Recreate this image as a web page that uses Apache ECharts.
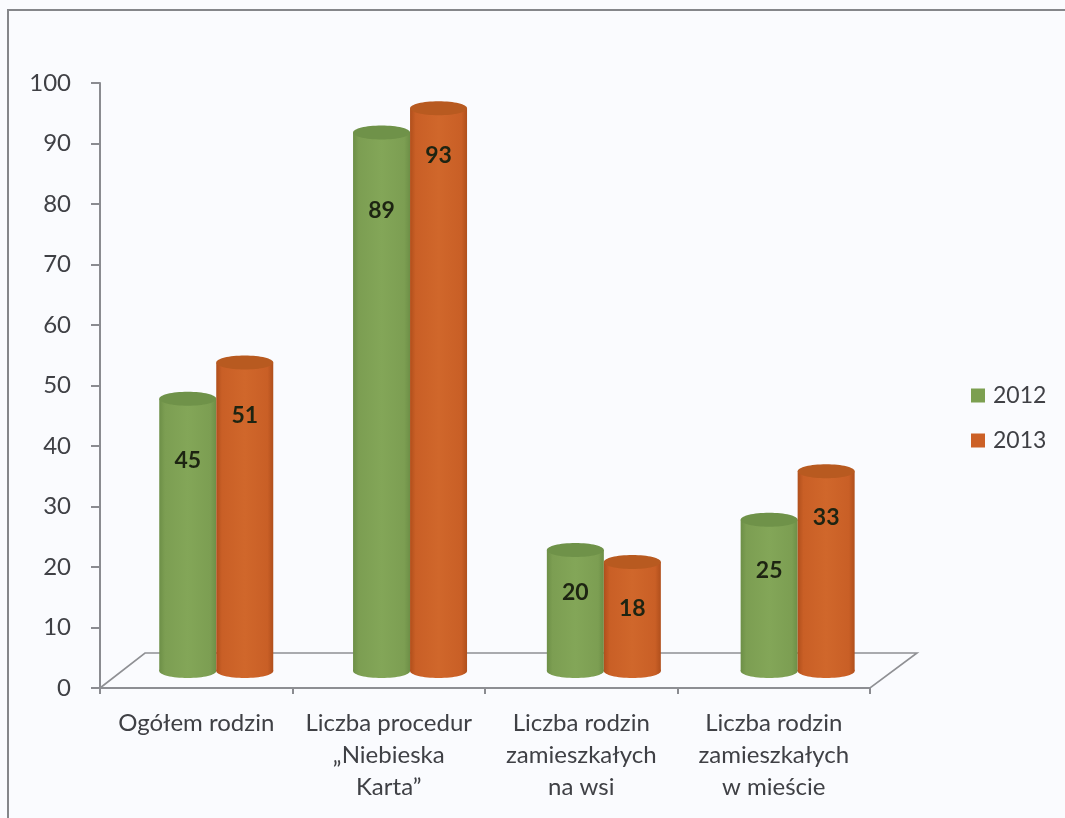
<!DOCTYPE html>
<html>
<head>
<meta charset="utf-8">
<style>html,body{margin:0;padding:0;background:#fafbfe}#c{width:1065px;height:818px;filter:blur(0.6px)}</style>
<script src="https://cdn.jsdelivr.net/npm/echarts@6/dist/echarts.min.js"></script>
</head>
<body>
<div id="c"></div>
<script>
const categories = ['Ogółem rodzin', 'Liczba procedur\n„Niebieska\nKarta”', 'Liczba rodzin\nzamieszkałych\nna wsi', 'Liczba rodzin\nzamieszkałych\nw mieście'];
const values2012 = [45, 89, 20, 25];
const values2013 = [51, 93, 18, 33];
const yTicks = {min: 0, max: 100, interval: 10};
// label drop below the cylinder top (px), as placed in the original
const labelDrop2012 = [62, 78, 43, 51];
const labelDrop2013 = [53, 47, 46, 46];

const G = echarts.graphic;
const grad = (a, b, c) => new G.LinearGradient(0, 0, 1, 0, [
  {offset: 0, color: a}, {offset: 0.1, color: b}, {offset: 0.5, color: c},
  {offset: 0.9, color: b}, {offset: 1, color: a}]);
const styles = {
  g: {body: grad('#6d8f47', '#7c9e52', '#83a658'), top: '#6f9249'},
  o: {body: grad('#b04f1c', '#c95f26', '#d0672b'), top: '#b85a20'}
};
const W = 57, RY = 7, LIFT = 17, DEPTH = 20, SPREAD = 1.3;

function cylinder(side, st, drops) {
  return function (params, api) {
    const i = api.value(0), v = api.value(1);
    const top = api.coord([i, v]), base = api.coord([i, 0]);
    const cx = top[0] + DEPTH + i * SPREAD + side * W / 2;
    const yT = top[1] - LIFT, yB = base[1] - LIFT;
    return {type: 'group', children: [
      {type: 'ellipse', shape: {cx, cy: yB, rx: W / 2, ry: RY}, style: {fill: st.body}},
      {type: 'rect', shape: {x: cx - W / 2, y: yT, width: W, height: yB - yT}, style: {fill: st.body}},
      {type: 'ellipse', shape: {cx, cy: yT, rx: W / 2, ry: RY}, style: {fill: st.top}},
      {type: 'text', style: {text: String(v), x: cx, y: yT + drops[i], align: 'center', verticalAlign: 'middle',
        fill: '#1d2412', font: 'bold 23px Lato'}}
    ]};
  };
}
function floor(params, api) {
  const half = api.size([1, 0])[0] / 2;
  const p0 = api.coord([0, 0]), p3 = api.coord([3, 0]);
  const a = [p0[0] - half, p0[1]], b = [p3[0] + half, p3[1]];
  return {type: 'polygon', shape: {points: [a, [a[0] + 45, a[1] - 35], [b[0] + 47, b[1] - 35], b]},
    style: {fill: 'none', stroke: '#8f9094', lineWidth: 1.6}};
}
const toData = arr => arr.map((v, i) => [i, v]);
const chart = echarts.init(document.getElementById('c'), null, {width: 1065, height: 818, renderer: 'canvas'});
chart.setOption({
  animation: false,
  backgroundColor: '#fafbfe',
  textStyle: {fontFamily: 'Lato'},
  grid: {left: 100, right: 195, top: 83, bottom: 130, containLabel: false},
  legend: {
    orient: 'vertical', left: 966, top: 379, itemWidth: 14, itemHeight: 14, itemGap: 22, icon: 'rect',
    data: ['2012', '2013'], textStyle: {fontSize: 23, color: '#3f4045', fontFamily: 'Lato', padding: [0, 0, 0, 3]}
  },
  xAxis: {
    type: 'category', data: categories, boundaryGap: true,
    axisLine: {lineStyle: {color: '#8a8b90', width: 2}},
    axisTick: {show: true, length: 6, alignWithLabel: false, lineStyle: {color: '#8a8b90', width: 2}},
    axisLabel: {color: '#3f4045', fontSize: 24, lineHeight: 32, margin: 19, interval: 0}
  },
  yAxis: {
    type: 'value', min: yTicks.min, max: yTicks.max, interval: yTicks.interval,
    splitLine: {show: false},
    axisLine: {show: true, lineStyle: {color: '#8a8b90', width: 2}},
    axisTick: {show: true, length: 9, lineStyle: {color: '#8a8b90', width: 2}},
    axisLabel: {color: '#3f4045', fontSize: 24, margin: 29}
  },
  graphic: [{type: 'polyline', silent: true, shape: {points: [[8, 818], [8, 10], [1065, 10]]},
    style: {fill: 'none', stroke: '#85868a', lineWidth: 2}}],
  series: [
    {type: 'custom', name: 'floor', silent: true, data: [[0, 0]], renderItem: floor, z: 1, encode: {x: 0, y: 1}},
    {type: 'custom', name: '2012', data: toData(values2012), renderItem: cylinder(-1, styles.g, labelDrop2012), itemStyle: {color: '#7c9f50'}, z: 2, encode: {x: 0, y: 1}},
    {type: 'custom', name: '2013', data: toData(values2013), renderItem: cylinder(1, styles.o, labelDrop2013), itemStyle: {color: '#cc6026'}, z: 3, encode: {x: 0, y: 1}}
  ]
});
</script>
</body>
</html>
